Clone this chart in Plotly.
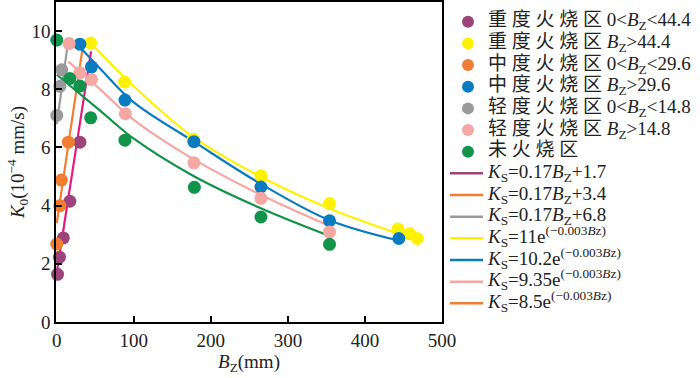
import plotly.graph_objects as go

# scatter data
heavy_low_x = [1, 3.5, 8.5, 17, 30]
heavy_low_y = [1.64, 2.23, 2.89, 4.15, 6.18]
heavy_high_x = [44, 88, 177, 265, 354, 443, 458, 468]
heavy_high_y = [9.59, 8.25, 6.28, 5.03, 4.07, 3.2, 3.03, 2.87]
mid_low_x = [0, 4, 6, 15]
mid_low_y = [2.68, 4.0, 4.88, 6.18]
mid_high_x = [30, 45, 88.5, 178, 265, 354, 444]
mid_high_y = [9.55, 8.77, 7.63, 6.2, 4.64, 3.48, 2.87]
light_low_x = [0, 4, 6.5]
light_low_y = [7.1, 8.1, 8.67]
light_high_x = [16, 30, 45, 89, 178, 265, 354]
light_high_y = [9.57, 8.57, 8.34, 7.16, 5.47, 4.25, 3.09]
unburnt_x = [0, 17, 30, 44, 88.5, 178.6, 265, 354]
unburnt_y = [9.69, 8.37, 8.11, 7.02, 6.25, 4.63, 3.61, 2.67]

# fitted lines
fit_heavy_lin_x = [0, 44.5]
fit_heavy_lin_y = [1.7, 9.3]
fit_mid_lin_x = [0, 34]
fit_mid_lin_y = [3.4, 9.5]
fit_light_lin_x = [0, 14]
fit_light_lin_y = [6.8, 9.5]
fit_heavy_exp_x = [44, 100, 175, 264, 354, 450]
fit_heavy_exp_y = [9.6, 8.1, 6.4, 5.0, 3.9, 2.97]
fit_mid_exp_x = [30, 57, 100, 178, 264, 354, 444]
fit_mid_exp_y = [9.45, 8.69, 7.55, 6.2, 4.76, 3.5, 2.8]
fit_light_exp_x = [15, 57, 100, 178, 264, 354]
fit_light_exp_y = [8.95, 7.98, 6.95, 5.59, 4.38, 3.3]
fit_unburnt_exp_x = [0, 57, 100, 178, 264, 350]
fit_unburnt_exp_y = [8.5, 7.25, 6.3, 5.01, 3.92, 3.0]

PURPLE = "#9c4479"
MAGENTA = "#e6197d"
YELLOW = "#fff200"
ORANGE = "#f07d32"
BLUE = "#0b7bc0"
GRAY = "#9a9a9a"
PINK = "#f4a7a3"
GREEN = "#12934a"

FONT = "Liberation Serif, Times New Roman, Noto Sans CJK SC, serif"

BZ = "<i>B</i><sub>Z</sub>"
KS = "<i>K</i><sub>S</sub>"
EXP = "e<sup>(−0.003<i>B</i>z)</sup>"
SP = "\u2005"  # small gap between the Chinese characters, as in the source figure

# legend entries (the key colours in the legend differ from a few drawn lines)
point_labels = [
    SP.join("重度火烧区") + " 0&lt;" + BZ + "&lt;44.4",
    SP.join("重度火烧区") + " " + BZ + "&gt;44.4",
    SP.join("中度火烧区") + " 0&lt;" + BZ + "&lt;29.6",
    SP.join("中度火烧区") + " " + BZ + "&gt;29.6",
    SP.join("轻度火烧区") + " 0&lt;" + BZ + "&lt;14.8",
    SP.join("轻度火烧区") + " " + BZ + "&gt;14.8",
    SP.join("未火烧区"),
]
point_colors = [PURPLE, YELLOW, ORANGE, BLUE, GRAY, PINK, GREEN]
line_labels = [
    KS + "=0.17" + BZ + "+1.7",
    KS + "=0.17" + BZ + "+3.4",
    KS + "=0.17" + BZ + "+6.8",
    KS + "=11" + EXP,
    KS + "=10.2" + EXP,
    KS + "=9.35" + EXP,
    KS + "=8.5" + EXP,
]
line_key_colors = [PURPLE, ORANGE, GRAY, YELLOW, BLUE, PINK, ORANGE]

fig = go.Figure()

# lines first so the points sit on top
lines = [
    (fit_heavy_lin_x, fit_heavy_lin_y, MAGENTA),
    (fit_mid_lin_x, fit_mid_lin_y, ORANGE),
    (fit_light_lin_x, fit_light_lin_y, GRAY),
    (fit_heavy_exp_x, fit_heavy_exp_y, YELLOW),
    (fit_mid_exp_x, fit_mid_exp_y, BLUE),
    (fit_light_exp_x, fit_light_exp_y, PINK),
    (fit_unburnt_exp_x, fit_unburnt_exp_y, GREEN),
]
for xs, ys, c in lines:
    fig.add_trace(go.Scatter(x=xs, y=ys, mode="lines", line=dict(color=c, width=2.2),
                             line_shape="spline", cliponaxis=False))

points = [
    (heavy_low_x, heavy_low_y), (heavy_high_x, heavy_high_y),
    (mid_low_x, mid_low_y), (mid_high_x, mid_high_y),
    (light_low_x, light_low_y), (light_high_x, light_high_y),
    (unburnt_x, unburnt_y),
]
for (xs, ys), c in zip(points, point_colors):
    fig.add_trace(go.Scatter(x=xs, y=ys, mode="markers", cliponaxis=False,
                             marker=dict(color=c, size=13, line=dict(width=0))))

# hand-built legend on its own axes: one row per entry
n_pts = len(point_labels)
rows_pts = list(range(n_pts))
rows_lines = list(range(n_pts, n_pts + len(line_labels)))
fig.add_trace(go.Scatter(x=[26] * n_pts, y=rows_pts, mode="markers", xaxis="x2", yaxis="y2",
                         marker=dict(color=point_colors, size=12, line=dict(width=0))))
for r, c in zip(rows_lines, line_key_colors):
    fig.add_trace(go.Scatter(x=[8, 41], y=[r, r], mode="lines", xaxis="x2", yaxis="y2",
                             line=dict(color=c, width=2.5)))
fig.add_trace(go.Scatter(x=[46] * (n_pts + len(line_labels)), y=rows_pts + rows_lines,
                         mode="text", text=point_labels + line_labels, textposition="middle right",
                         xaxis="x2", yaxis="y2", cliponaxis=False,
                         textfont=dict(size=19, family=FONT, color="#222222")))

axis_common = dict(showline=True, linecolor="black", linewidth=1.5, mirror=True,
                   ticks="inside", ticklen=6, tickwidth=1.5, tickcolor="black",
                   showgrid=False, zeroline=False, automargin=False,
                   tickfont=dict(size=19, family=FONT))

plot_frac = 386 / 644

fig.update_layout(
    width=700, height=378,
    margin=dict(l=56, r=0, t=2, b=56),
    paper_bgcolor="white", plot_bgcolor="white",
    font=dict(family=FONT, color="#222222", size=18),
    showlegend=False,
    xaxis=dict(domain=[0, plot_frac], range=[-1, 500], tickvals=[0, 100, 200, 300, 400, 500],
               title=dict(text="<i>B</i><sub>Z</sub>(mm)", font=dict(size=19, family=FONT), standoff=2),
               **axis_common),
    yaxis=dict(range=[0, 11], tickvals=[0, 2, 4, 6, 8, 10],
               title=dict(text="<i>K</i><sub>0</sub>(10<sup>−4</sup> mm/s)", font=dict(size=19, family=FONT), standoff=2),
               **axis_common),
    xaxis2=dict(domain=[plot_frac, 1], range=[0, 258], visible=False, fixedrange=True),
    yaxis2=dict(anchor="x2", domain=[0, 1], range=[13.86, -0.91], visible=False, fixedrange=True),
)

# the default page keeps the browser's 8px body margin; drop it so the figure fills the window
fig.write_html("out.html", config={"displayModeBar": False},
               post_script="document.body.style.margin='0px';")
